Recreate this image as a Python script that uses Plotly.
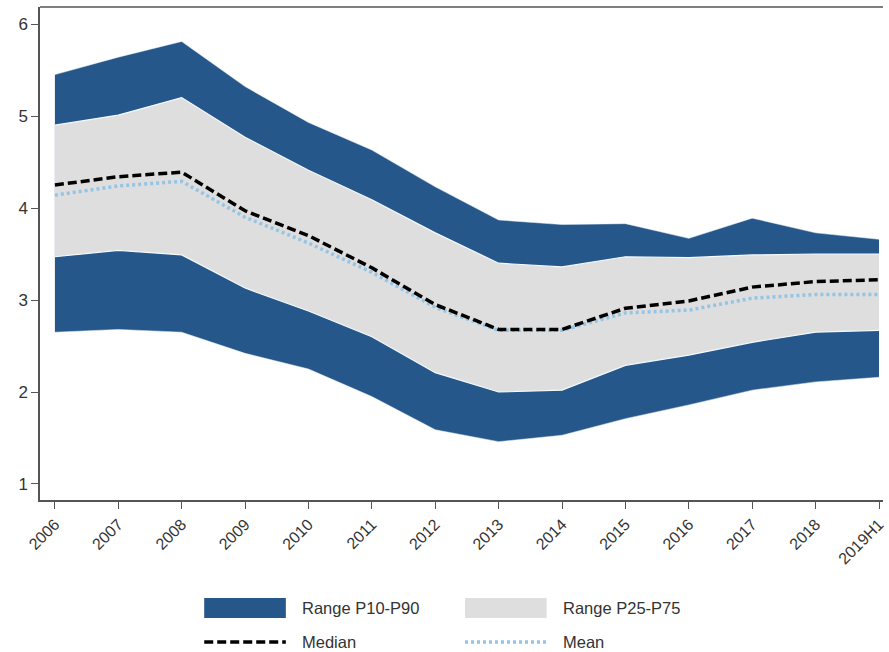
import plotly.graph_objects as go

years = ["2006", "2007", "2008", "2009", "2010", "2011", "2012",
         "2013", "2014", "2015", "2016", "2017", "2018", "2019H1"]

p10 = [2.65, 2.68, 2.65, 2.42, 2.25, 1.95, 1.59, 1.46, 1.53, 1.71, 1.86, 2.02, 2.11, 2.16]
p25 = [3.47, 3.54, 3.49, 3.13, 2.88, 2.60, 2.21, 2.00, 2.02, 2.29, 2.40, 2.54, 2.65, 2.67]
median = [4.25, 4.34, 4.39, 3.97, 3.70, 3.35, 2.95, 2.68, 2.68, 2.91, 2.99, 3.14, 3.20, 3.22]
mean = [4.14, 4.24, 4.29, 3.90, 3.62, 3.30, 2.92, 2.67, 2.67, 2.86, 2.89, 3.02, 3.06, 3.06]
p75 = [4.90, 5.01, 5.20, 4.77, 4.41, 4.09, 3.73, 3.40, 3.36, 3.47, 3.46, 3.49, 3.50, 3.50]
p90 = [5.45, 5.64, 5.81, 5.32, 4.93, 4.63, 4.23, 3.87, 3.82, 3.83, 3.67, 3.89, 3.73, 3.66]

DARK = "#26578a"
LIGHT = "#dedede"
MEAN_C = "#94c4e6"
FONT = "Liberation Sans, Arial, sans-serif"
TXT = "#333333"

x = list(range(len(years)))

fig = go.Figure()
# outer band P10-P90
fig.add_trace(go.Scatter(x=x, y=p10, mode="lines", line=dict(width=0.5, color="#eaf3fb"),
                         showlegend=False, hoverinfo="skip"))
fig.add_trace(go.Scatter(x=x, y=p90, mode="lines", line=dict(width=0.5, color="#eaf3fb"),
                         fill="tonexty", fillcolor=DARK, name="Range P10-P90"))
# inner band P25-P75
fig.add_trace(go.Scatter(x=x, y=p25, mode="lines", line=dict(width=1.2, color="#f4f9fd"),
                         showlegend=False, hoverinfo="skip"))
fig.add_trace(go.Scatter(x=x, y=p75, mode="lines", line=dict(width=1.2, color="#f4f9fd"),
                         fill="tonexty", fillcolor=LIGHT, name="Range P25-P75"))
# mean and median lines
fig.add_trace(go.Scatter(x=x, y=mean, mode="lines",
                         line=dict(color=MEAN_C, width=3.5, dash="3px,3px"), name="Mean"))
fig.add_trace(go.Scatter(x=x, y=median, mode="lines",
                         line=dict(color="black", width=3.5, dash="9px,4px"), name="Median"))

axis_line = "#555555"
fig.update_xaxes(
    range=[-0.235, 13.063], tickmode="array", tickvals=x, ticktext=years,
    tickangle=-45, ticks="outside", ticklen=7, tickcolor=axis_line, tickwidth=1.2,
    showline=True, linecolor=axis_line, linewidth=1.5,
    showgrid=False, zeroline=False, ticklabeloverflow="allow",
    tickfont=dict(family=FONT, size=16, color=TXT),
)
fig.update_yaxes(
    range=[0.826, 6.185], tickvals=[1, 2, 3, 4, 5, 6],
    ticks="outside", ticklen=7, tickcolor=axis_line, tickwidth=1.2,
    showline=True, linecolor=axis_line, linewidth=1.5,
    showgrid=False, zeroline=False,
    tickfont=dict(family=FONT, size=17, color=TXT),
)

# legend block below the plot, two columns
W_PLOT = 887 - 40
PLOT_H = 500 - 7


def px_x(px):
    return (px - 40) / W_PLOT


def px_y(py):
    return (500 - py) / PLOT_H


# top frame line
shapes = [dict(type="line", xref="paper", yref="paper", x0=0, x1=1, y0=1, y1=1,
               line=dict(color=axis_line, width=1.5))]
annotations = []
entries = [
    ("Range P10-P90", "box", DARK, 205, 608),
    ("Range P25-P75", "box", LIGHT, 467, 608),
    ("Median", "dash", "black", 205, 642),
    ("Mean", "dot", MEAN_C, 467, 642),
]
for label, kind, color, x0, yc in entries:
    if kind == "box":
        shapes.append(dict(type="rect", xref="paper", yref="paper",
                           x0=px_x(x0), x1=px_x(x0 + 82), y0=px_y(yc + 10), y1=px_y(yc - 10),
                           fillcolor=color, line=dict(width=0)))
    else:
        shapes.append(dict(type="line", xref="paper", yref="paper",
                           x0=px_x(x0), x1=px_x(x0 + 82), y0=px_y(yc), y1=px_y(yc),
                           line=dict(color=color, width=3.5,
                                     dash="9px,4px" if kind == "dash" else "3px,3px")))
    annotations.append(dict(text=label, xref="paper", yref="paper",
                            x=px_x(x0 + 96), y=px_y(yc), xanchor="left", yanchor="middle",
                            showarrow=False, font=dict(family=FONT, size=16.5, color=TXT)))

fig.update_layout(
    width=889, height=652,
    margin=dict(l=40, r=2, t=7, b=152),
    paper_bgcolor="white", plot_bgcolor="white",
    showlegend=False,
    shapes=shapes, annotations=annotations,
    font=dict(family=FONT),
)

fig.write_html("out.html")
